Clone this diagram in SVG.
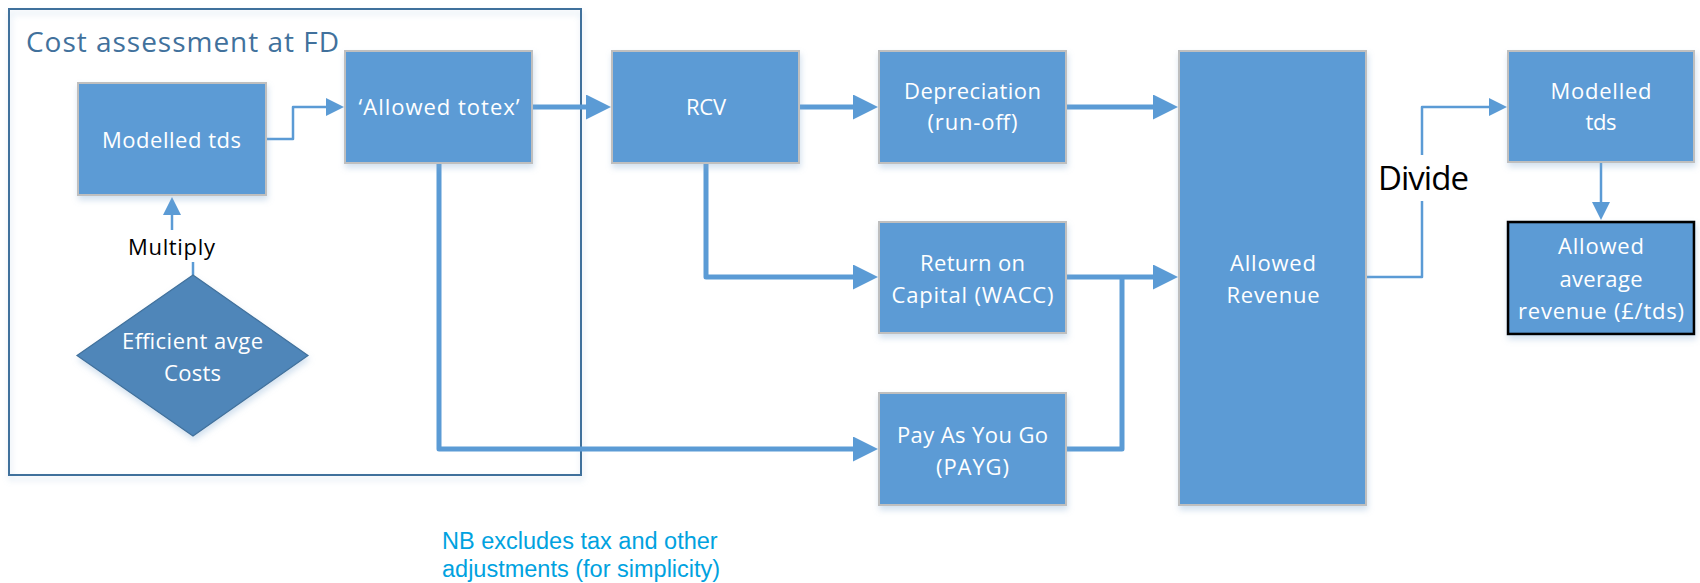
<svg xmlns="http://www.w3.org/2000/svg" width="1700" height="583" viewBox="0 0 1700 583">
<style>
.box{fill:#5B9BD5;stroke:#BFBFBF;stroke-width:2;filter:url(#sh)}
.wt{fill:#FFFFFF;font-family:"Open Sans","Liberation Sans",sans-serif;font-size:22px;text-anchor:middle}
.bk{fill:#000000;font-family:"Open Sans","Liberation Sans",sans-serif;text-anchor:middle}
.thin{fill:none;stroke:#5B9BD5;stroke-width:2.5;stroke-linejoin:round}
.thick{fill:none;stroke:#5B9BD5;stroke-width:5;stroke-linejoin:round}
</style>
<defs>
<filter id="sh" x="-20%" y="-20%" width="140%" height="150%">
<feDropShadow dx="1" dy="4" stdDeviation="3" flood-color="#7FA7D0" flood-opacity="0.35"/>
</filter>
<marker id="ahThin" markerUnits="userSpaceOnUse" markerWidth="18" markerHeight="18" refX="1" refY="9" orient="auto">
<path d="M0,0 L18,9 L0,18 z" fill="#5B9BD5"/>
</marker>
<marker id="ahThick" markerUnits="userSpaceOnUse" markerWidth="25" markerHeight="25" refX="1" refY="12.5" orient="auto">
<path d="M0,0 L25,12.5 L0,25 z" fill="#5B9BD5"/>
</marker>
</defs>
<rect width="1700" height="583" fill="#FFFFFF"/>

<g id="frame">
<rect x="9" y="9" width="572" height="466" fill="none" stroke="#41719C" stroke-width="2" filter="url(#sh)"/>
<text x="26" y="51.5" font-family="Open Sans, Liberation Sans, sans-serif" font-size="28" fill="#41719C" textLength="313" lengthAdjust="spacing">Cost assessment at FD</text>
</g>

<g id="connectors">
<path class="thin" d="M266,139 H293 V107 H327" marker-end="url(#ahThin)"/>
<path class="thin" d="M172,230 V214" marker-end="url(#ahThin)"/>
<path class="thin" d="M193,262 V275"/>
<path class="thick" d="M532,107 H587" marker-end="url(#ahThick)"/>
<path class="thick" d="M799,107 H854" marker-end="url(#ahThick)"/>
<path class="thick" d="M706,163 V277 H854" marker-end="url(#ahThick)"/>
<path class="thick" d="M439,163 V449 H854" marker-end="url(#ahThick)"/>
<path class="thick" d="M1066,107 H1154" marker-end="url(#ahThick)"/>
<path class="thick" d="M1066,277 H1154" marker-end="url(#ahThick)"/>
<path class="thick" d="M1066,449 H1122 V277"/>
<path class="thin" d="M1366,277 H1422 V201"/>
<path class="thin" d="M1422,155 V107 H1490" marker-end="url(#ahThin)"/>
<path class="thin" d="M1601,162 V203" marker-end="url(#ahThin)"/>
<text class="bk" x="171.5" y="255" font-size="22" textLength="87" lengthAdjust="spacing">Multiply</text>
<text class="bk" x="1423.5" y="190" font-size="33" textLength="91" lengthAdjust="spacing">Divide</text>
</g>

<g id="modelled-tds-left">
<rect class="box" x="78" y="83" width="188" height="112"/>
<text class="wt" x="171.5" y="148" textLength="139" lengthAdjust="spacing">Modelled tds</text>
</g>

<g id="efficient-costs">
<polygon points="193,275 308,355.5 193,436 77,355.5" fill="#4F86B9" stroke="#41719C" stroke-width="1.2" filter="url(#sh)"/>
<text class="wt" x="192.5" y="349" textLength="141" lengthAdjust="spacing">Efficient avge</text>
<text class="wt" x="192.5" y="381" textLength="57" lengthAdjust="spacing">Costs</text>
</g>

<g id="allowed-totex">
<rect class="box" x="345" y="51" width="187" height="112"/>
<text class="wt" x="439" y="115" textLength="161" lengthAdjust="spacing">‘Allowed totex’</text>
</g>

<g id="rcv">
<rect class="box" x="612" y="51" width="187" height="112"/>
<text class="wt" x="706" y="115" textLength="40" lengthAdjust="spacing">RCV</text>
</g>

<g id="depreciation">
<rect class="box" x="879" y="51" width="187" height="112"/>
<text class="wt" x="972.5" y="99" textLength="137" lengthAdjust="spacing">Depreciation</text>
<text class="wt" x="972.5" y="130" textLength="90" lengthAdjust="spacing">(run-off)</text>
</g>

<g id="return-on-capital">
<rect class="box" x="879" y="222" width="187" height="111"/>
<text class="wt" x="972.5" y="270.5" textLength="105" lengthAdjust="spacing">Return on</text>
<text class="wt" x="972.5" y="303" textLength="162" lengthAdjust="spacing">Capital (WACC)</text>
</g>

<g id="payg">
<rect class="box" x="879" y="393" width="187" height="112"/>
<text class="wt" x="972.5" y="443" textLength="151" lengthAdjust="spacing">Pay As You Go</text>
<text class="wt" x="972.5" y="475" textLength="73" lengthAdjust="spacing">(PAYG)</text>
</g>

<g id="allowed-revenue">
<rect class="box" x="1179" y="51" width="187" height="454"/>
<text class="wt" x="1273" y="270.5" textLength="86" lengthAdjust="spacing">Allowed</text>
<text class="wt" x="1273" y="303" textLength="93" lengthAdjust="spacing">Revenue</text>
</g>

<g id="modelled-tds-right">
<rect class="box" x="1508" y="51" width="186" height="111"/>
<text class="wt" x="1601" y="99" textLength="101" lengthAdjust="spacing">Modelled</text>
<text class="wt" x="1601" y="130" textLength="31" lengthAdjust="spacing">tds</text>
</g>

<g id="allowed-average-revenue">
<rect x="1508" y="222" width="186" height="112" fill="#5B9BD5" stroke="#000000" stroke-width="2.6" filter="url(#sh)"/>
<text class="wt" x="1601" y="254" textLength="86" lengthAdjust="spacing">Allowed</text>
<text class="wt" x="1601" y="286.5" textLength="83" lengthAdjust="spacing">average</text>
<text class="wt" x="1601" y="318.5" textLength="166" lengthAdjust="spacing">revenue (£/tds)</text>
</g>

<g id="note">
<text x="442" y="549" font-family="Liberation Sans, Arial, sans-serif" font-size="23.5" fill="#00A2E0">NB excludes tax and other</text>
<text x="442" y="577" font-family="Liberation Sans, Arial, sans-serif" font-size="23.5" fill="#00A2E0">adjustments (for simplicity)</text>
</g>
</svg>
